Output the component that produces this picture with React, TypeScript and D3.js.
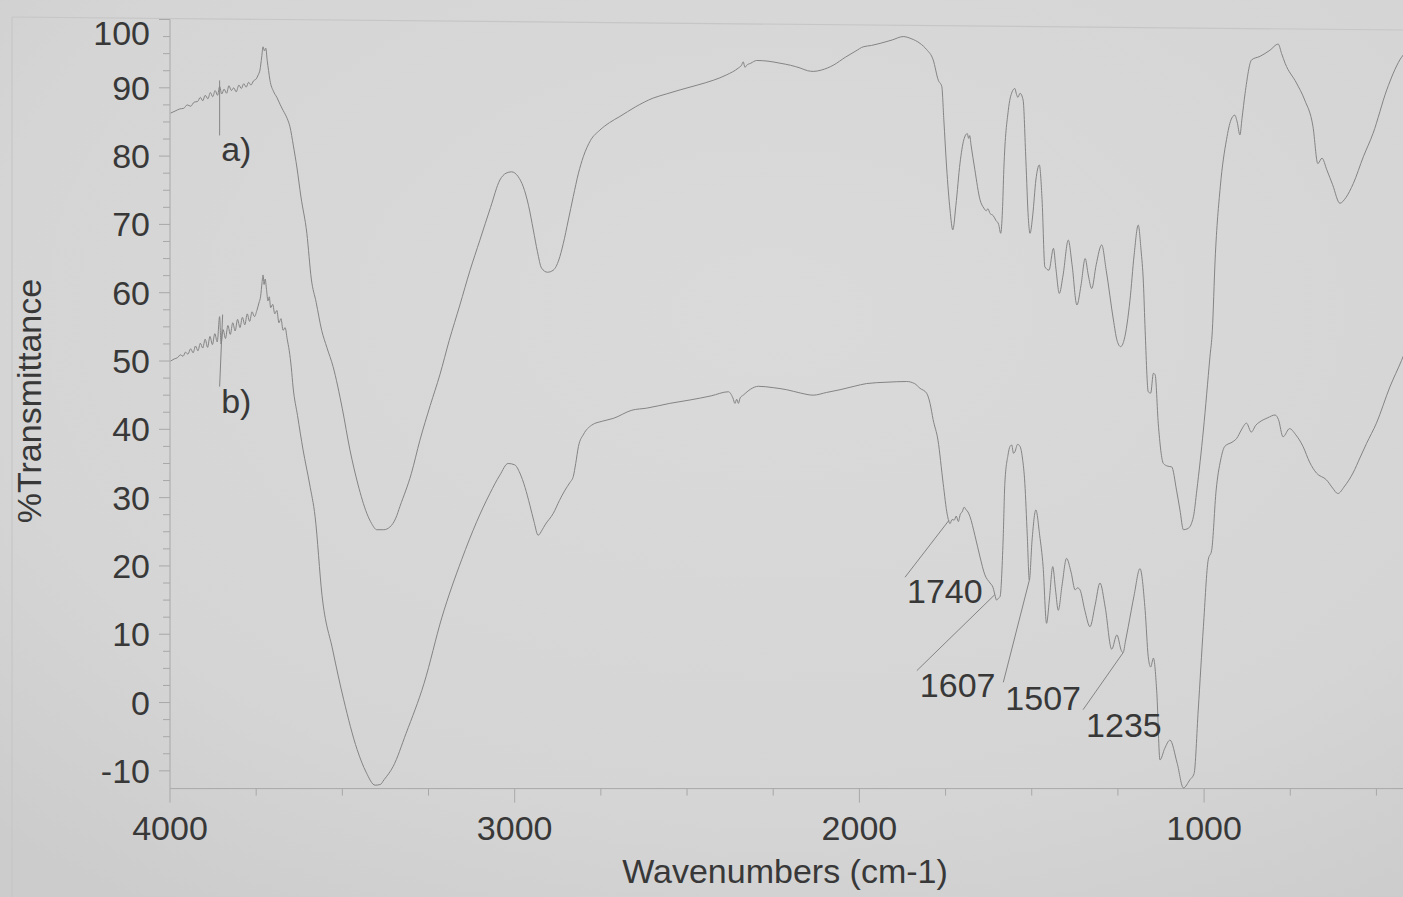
import React from 'react';
import * as d3 from 'd3';

// FTIR spectra: wavenumber (cm-1) and %T for each trace
const aWavenumbers = [
  3998, 3985, 3972, 3960, 3950, 3940, 3930, 3920, 3912, 3905, 3898, 3890, 3883, 3876, 3869, 3862, 3856, 3850,
  3843, 3836, 3829, 3822, 3815, 3808, 3800, 3793, 3786, 3779, 3772, 3765, 3758, 3750, 3744, 3739, 3734, 3730,
  3726, 3722, 3718, 3714, 3710, 3700, 3690, 3680, 3672, 3660, 3652, 3642, 3632, 3620, 3603, 3590, 3576, 3560,
  3545, 3527, 3500, 3478, 3455, 3429, 3415, 3400, 3380, 3362, 3345, 3333, 3300, 3275, 3245, 3217, 3190, 3159,
  3130, 3101, 3070, 3043, 3025, 3009, 2990, 2975, 2960, 2946, 2934, 2922, 2905, 2888, 2872, 2859, 2845, 2830,
  2815, 2801, 2780, 2753, 2725, 2695, 2650, 2598, 2560, 2520, 2470, 2424, 2385, 2351, 2342, 2337, 2332, 2327,
  2315, 2298, 2265, 2230, 2200, 2172, 2150, 2134, 2110, 2076, 2040, 2010, 1989, 1965, 1940, 1905, 1873, 1850,
  1824, 1805, 1786, 1771, 1761, 1755, 1747, 1737, 1729, 1720, 1708, 1697, 1687, 1683, 1680, 1676, 1665, 1650,
  1639, 1632, 1627, 1621, 1612, 1604, 1596, 1590, 1585, 1581, 1568, 1557, 1549, 1544, 1540, 1534, 1525, 1517,
  1510, 1505, 1497, 1488, 1478, 1470, 1462, 1450, 1437, 1430, 1420, 1409, 1394, 1383, 1369, 1357, 1345, 1336,
  1326, 1313, 1297, 1284, 1263, 1253, 1242, 1232, 1215, 1203, 1191, 1183, 1176, 1171, 1162, 1155, 1147, 1142,
  1133, 1118, 1105, 1094, 1080, 1070, 1060, 1046, 1031, 1021, 1002, 983, 976, 968, 953, 935, 922, 911, 904, 896,
  890, 881, 862, 838, 809, 785, 775, 765, 732, 708, 684, 670, 658, 644, 627, 606, 589, 567, 538, 510, 470, 432,
  417, 400,
];
const aTransmittance = [
  86.3, 86.6, 86.9, 87.0, 87.5, 87.3, 87.9, 88.0, 88.6, 88.1, 88.9, 88.4, 89.3, 88.7, 89.6, 88.9, 90.2, 89.1,
  89.8, 89.2, 90.3, 89.6, 90.0, 89.4, 90.4, 89.9, 90.6, 90.1, 90.8, 90.4, 91.0, 91.3, 91.9, 92.6, 94.5, 96.0,
  95.4, 95.8, 94.0, 92.5, 91.1, 89.5, 88.6, 87.5, 86.7, 85.5, 84.3, 81.5, 78.4, 74.0, 68.7, 62.0, 58.6, 54.5,
  52.0, 49.2, 43.0, 37.0, 32.0, 27.7, 26.2, 25.3, 25.3, 25.7, 27.0, 28.7, 33.5, 38.4, 43.5, 48.0, 53.0, 58.2,
  63.2, 67.7, 72.5, 76.5, 77.5, 77.7, 77.0, 75.5, 72.8, 69.2, 66.0, 63.6, 63.0, 63.3, 64.8, 67.2, 70.5, 74.1,
  77.5, 79.9, 82.3, 83.8, 84.9, 85.8, 87.2, 88.5, 89.1, 89.7, 90.4, 91.1, 91.9, 92.9, 93.3, 93.8, 93.0, 93.3,
  93.6, 94.0, 93.9, 93.6, 93.3, 92.9, 92.5, 92.4, 92.6, 93.3, 94.5, 95.4, 96.0, 96.2, 96.5, 97.0, 97.5, 97.2,
  96.5, 95.6, 94.1, 91.1, 90.2, 85.3, 78.4, 72.1, 69.2, 72.8, 79.0, 82.4, 83.3, 82.6, 83.0, 81.6, 78.0, 73.6,
  72.4, 72.0, 72.3, 71.6, 71.3, 70.6, 70.0, 68.7, 72.0, 78.0, 86.7, 89.4, 89.9, 89.0, 88.6, 89.2, 88.2, 79.4,
  71.0, 68.7, 71.4, 76.5, 78.7, 73.6, 63.8, 63.3, 66.5, 63.6, 59.9, 62.6, 67.7, 64.1, 58.2, 61.1, 65.0, 62.6,
  60.6, 64.1, 67.0, 63.3, 56.0, 53.1, 52.1, 53.1, 58.9, 65.5, 69.9, 66.3, 61.4, 54.5, 45.5, 45.3, 48.2, 48.0,
  40.9, 35.0, 34.6, 34.5, 31.1, 28.2, 25.3, 25.5, 27.2, 31.1, 39.9, 50.6, 54.5, 64.8, 75.5, 82.4, 85.3, 86.0, 85.0, 83.1,
  85.5, 89.2, 94.1, 94.6, 95.5, 96.4, 95.0, 93.6, 90.7, 88.2, 84.3, 78.9, 79.7, 78.0, 75.8, 73.1, 73.9, 76.0, 79.9, 83.3, 89.7, 94.1,
  95.2, 97.0,
];

const bWavenumbers = [
  3998, 3988, 3978, 3970, 3962, 3955, 3948, 3940, 3933, 3926, 3919, 3912, 3905, 3898, 3891, 3884, 3877, 3870,
  3863, 3856, 3852, 3846, 3839, 3832, 3825, 3818, 3811, 3804, 3797, 3790, 3783, 3776, 3769, 3762, 3755, 3748,
  3742, 3737, 3733, 3730, 3727, 3724, 3720, 3716, 3712, 3708, 3702, 3696, 3690, 3684, 3678, 3672, 3666, 3660,
  3654, 3648, 3643, 3630, 3614, 3595, 3579, 3559, 3528, 3496, 3457, 3431, 3405, 3390, 3379, 3353, 3315, 3263,
  3211, 3154, 3110, 3072, 3043, 3019, 3000, 2985, 2970, 2956, 2944, 2932, 2920, 2912, 2888, 2870, 2854, 2840,
  2830, 2823, 2815, 2800, 2777, 2745, 2714, 2660, 2617, 2550, 2491, 2430, 2380, 2367, 2361, 2356, 2351, 2346,
  2337, 2315, 2293, 2250, 2211, 2170, 2134, 2095, 2056, 2015, 1979, 1920, 1863, 1840, 1824, 1805, 1795, 1786,
  1772, 1757, 1745, 1737, 1731, 1725, 1719, 1713, 1707, 1702, 1696, 1690, 1685, 1679, 1665, 1650, 1636, 1621,
  1612, 1607, 1602, 1596, 1592, 1583, 1578, 1569, 1563, 1558, 1553, 1549, 1541, 1534, 1527, 1520, 1513, 1507,
  1499, 1488, 1477, 1467, 1457, 1449, 1439, 1431, 1423, 1412, 1399, 1386, 1374, 1367, 1360, 1346, 1331, 1316,
  1302, 1287, 1268, 1253, 1240, 1235, 1228, 1220, 1203, 1186, 1171, 1162, 1155, 1147, 1137, 1128, 1114, 1099,
  1078, 1060, 1041, 1029, 1017, 1002, 988, 978, 965, 952, 940, 916, 905, 892, 877, 863, 850, 838, 815, 794,
  784, 771, 752, 734, 713, 694, 674, 645, 627, 612, 592, 568, 548, 529, 500, 461, 427, 400,
];
const bTransmittance = [
  50.0, 50.3, 50.5, 50.9, 50.7, 51.3, 51.0, 51.8, 51.2, 52.2, 51.5, 52.6, 51.9, 53.2, 52.0, 53.6, 52.4, 54.0,
  52.8, 56.5, 52.5, 54.6, 53.3, 55.2, 53.9, 55.6, 54.4, 56.1, 54.9, 56.4, 55.3, 56.9, 55.8, 57.2, 56.5, 57.4,
  58.5, 59.5, 61.5, 62.6, 61.2, 62.0, 60.5, 58.8, 59.4, 57.8, 58.3, 56.9, 57.4, 55.6, 56.2, 54.5, 54.9, 53.2,
  51.5, 49.0, 46.2, 42.0, 37.0, 32.0, 27.2, 15.7, 7.7, 0.4, -6.9, -10.2, -12.1, -12.0, -11.3, -9.4, -4.5, 2.8,
  12.5, 20.9, 26.5, 30.6, 33.3, 35.0, 34.8, 33.6, 31.5, 28.9, 26.5, 24.5, 25.3, 26.0, 27.7, 29.6, 31.1, 32.2,
  33.1, 35.0, 37.5, 39.3, 40.6, 41.2, 41.6, 42.8, 43.1, 43.8, 44.3, 44.9, 45.5, 44.6, 43.8, 44.4, 43.8, 44.6,
  45.0, 45.9, 46.3, 46.1, 45.8, 45.3, 45.0, 45.4, 45.8, 46.3, 46.7, 46.9, 47.0, 46.7, 46.0, 45.3, 43.8, 41.4,
  38.4, 32.1, 27.5, 26.2, 26.8, 26.7, 27.3, 26.5, 27.6, 27.9, 28.6, 28.2, 27.9, 27.2, 24.5, 21.3, 18.7, 17.5,
  16.8, 15.8, 15.0, 15.3, 15.5, 23.8, 32.1, 36.2, 37.5, 37.7, 36.5, 36.7, 37.8, 37.5, 35.8, 32.1, 24.5, 17.9,
  23.8, 28.2, 24.5, 19.9, 11.6, 15.0, 19.9, 16.5, 13.5, 17.2, 21.1, 19.1, 16.5, 16.8, 16.5, 13.5, 11.1, 14.3,
  17.5, 14.0, 7.8, 9.9, 7.6, 7.3, 9.0, 11.1, 15.7, 19.6, 13.5, 6.7, 5.2, 6.5, 1.3, -8.4, -6.7, -5.5,
  -8.9, -12.5, -11.3, -10.4, -1.1, 11.1, 20.9, 22.3, 31.1, 35.5, 37.5, 38.2, 38.7, 39.9, 40.9, 39.6, 40.6, 41.1, 41.7, 42.1,
  41.4, 38.9, 40.1, 39.2, 37.5, 35.2, 33.6, 32.6, 31.4, 30.6, 31.7, 33.6, 35.8, 37.9, 40.9, 46.2, 50.1, 53.5,
];

const xMajorTicks = [4000, 3000, 2000, 1000];
const xMinorTicks = [3750, 3500, 3250, 2750, 2500, 2250, 1750, 1500, 1250, 750, 500];
const yMajorTicks = [-10, 0, 10, 20, 30, 40, 50, 60, 70, 80, 90, 100];
const traceNames = ['a)', 'b)'];
const bandLabels = [1740, 1607, 1507, 1235];
const markerWavenumber = 3856;

const W = 1403;
const H = 897;
const FONT = '"Liberation Sans", Arial, Helvetica, sans-serif';
const TEXT = '#383838';
const LINE = '#848484';
const AXIS = '#a8a8a8';

const x = d3.scaleLinear().domain([4000, 400]).range([170, 1410.9]);
const y = d3.scaleLinear().domain([-12.6, 100]).range([788.6, 19.5]);

function valueAt(wn: number[], t: number[], target: number): number {
  for (let i = 0; i < wn.length - 1; i++) {
    if (wn[i] >= target && wn[i + 1] <= target) {
      const f = (wn[i] - target) / (wn[i] - wn[i + 1]);
      return t[i] + f * (t[i + 1] - t[i]);
    }
  }
  return t[t.length - 1];
}

function tracePath(wn: number[], t: number[]): string {
  const line = d3
    .line<number>()
    .x((i) => x(wn[i]))
    .y((i) => y(t[i]))
    .curve(d3.curveMonotoneX);
  return line(d3.range(wn.length)) || '';
}

// leader geometry for the band labels, relative to the point on trace b
const bandLayout = [
  { dx: -44, dy: 57, tx: 2, ty: 26 },
  { dx: -78, dy: 76, tx: 3, ty: 26 },
  { dx: -26, dy: 102, tx: 2, ty: 28 },
  { dx: -40, dy: 57, tx: 3, ty: 27 },
];

export default function App() {
  const series = [
    { wn: aWavenumbers, t: aTransmittance },
    { wn: bWavenumbers, t: bTransmittance },
  ];
  const yMinor = d3.range(-10, 100.01, 2.5).filter((v) => Math.abs(v % 10) > 0.01);
  const axisBottom = y(-12.6);
  const axisLeft = x(4000);

  return (
    <svg
      width={W}
      height={H}
      viewBox={`0 0 ${W} ${H}`}
      style={{ position: 'absolute', left: 0, top: 0, display: 'block' }}
      fontFamily={FONT}
    >
      <defs>
        <radialGradient id="paper" cx="55%" cy="35%" r="80%">
          <stop offset="0%" stopColor="#dadada" />
          <stop offset="70%" stopColor="#d5d5d5" />
          <stop offset="100%" stopColor="#cccccc" />
        </radialGradient>
      </defs>
      <rect x={0} y={0} width={W} height={H} fill="url(#paper)" />

      {/* faint outer frame */}
      <line x1={12} y1={17} x2={W} y2={30} stroke="#c6c6c6" strokeWidth={1.2} />
      <line x1={12} y1={17} x2={12} y2={H} stroke="#c6c6c6" strokeWidth={1.2} />

      {/* y axis */}
      <line x1={axisLeft} y1={y(100)} x2={axisLeft} y2={axisBottom} stroke={AXIS} strokeWidth={1} />
      {yMajorTicks.map((v) => (
        <line key={`ym${v}`} x1={axisLeft - 11} x2={axisLeft} y1={y(v)} y2={y(v)} stroke={AXIS} strokeWidth={1} />
      ))}
      {yMinor.map((v) => (
        <line key={`yn${v}`} x1={axisLeft - 7} x2={axisLeft} y1={y(v)} y2={y(v)} stroke={AXIS} strokeWidth={1} />
      ))}
      {yMajorTicks.map((v) => (
        <text
          key={`yl${v}`}
          x={150}
          y={Math.max(y(v), 33) + 12}
          textAnchor="end"
          fontSize={34}
          fill={TEXT}
        >
          {v}
        </text>
      ))}
      <text
        transform={`translate(41,401) rotate(-90)`}
        textAnchor="middle"
        fontSize={34}
        fill={TEXT}
      >
        %Transmittance
      </text>

      {/* x axis */}
      <line x1={axisLeft} y1={axisBottom} x2={W} y2={axisBottom} stroke={AXIS} strokeWidth={1} />
      {xMajorTicks.map((v) => (
        <line key={`xm${v}`} x1={x(v)} x2={x(v)} y1={axisBottom} y2={axisBottom + 14} stroke={AXIS} strokeWidth={1} />
      ))}
      {xMinorTicks.map((v) => (
        <line key={`xn${v}`} x1={x(v)} x2={x(v)} y1={axisBottom} y2={axisBottom + 7} stroke={AXIS} strokeWidth={1} />
      ))}
      {xMajorTicks.map((v) => (
        <text key={`xl${v}`} x={x(v)} y={840} textAnchor="middle" fontSize={34} fill={TEXT}>
          {v}
        </text>
      ))}
      <text x={785} y={883} textAnchor="middle" fontSize={34} fill={TEXT}>
        Wavenumbers (cm-1)
      </text>

      {/* spectra */}
      {series.map((s, i) => (
        <path key={`s${i}`} d={tracePath(s.wn, s.t)} fill="none" stroke={LINE} strokeWidth={1} strokeLinejoin="round" />
      ))}

      {/* trace markers a) and b) */}
      {series.map((s, i) => {
        const px = x(markerWavenumber);
        const py = y(valueAt(s.wn, s.t, markerWavenumber));
        const top = i === 0 ? { x: px, y: py - 6 } : { x: px + 3, y: py - 2 };
        const bottom = i === 0 ? { x: px, y: py + 49 } : { x: px, y: py + 70 };
        return (
          <g key={`m${i}`}>
            <line x1={top.x} y1={top.y} x2={bottom.x} y2={bottom.y} stroke={LINE} strokeWidth={1} />
            <text x={bottom.x + 1.5} y={bottom.y + 26} fontSize={34} fill={TEXT}>
              {traceNames[i]}
            </text>
          </g>
        );
      })}

      {/* band assignments on trace b */}
      {bandLabels.map((wn, i) => {
        const ex = x(wn);
        const ey = y(valueAt(bWavenumbers, bTransmittance, wn));
        const L = bandLayout[i];
        const sx = ex + L.dx;
        const sy = ey + L.dy;
        return (
          <g key={`band${wn}`}>
            <line x1={sx} y1={sy} x2={ex} y2={ey} stroke={LINE} strokeWidth={1} />
            <text x={sx + L.tx} y={sy + L.ty} fontSize={34} fill={TEXT}>
              {wn}
            </text>
          </g>
        );
      })}
    </svg>
  );
}
